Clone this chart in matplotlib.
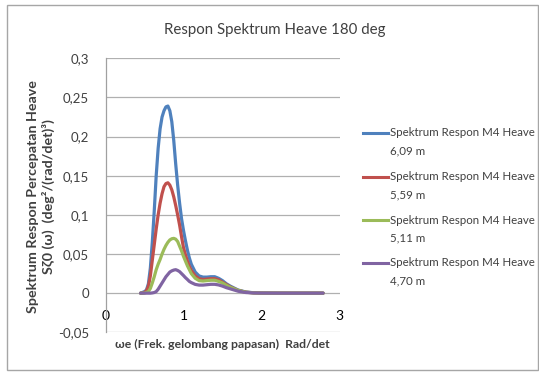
import matplotlib
matplotlib.use("Agg")
import matplotlib.pyplot as plt
from matplotlib.lines import Line2D
from matplotlib.patches import Rectangle

# ---- data ----
omega = [0.45, 0.475, 0.5, 0.525, 0.55, 0.575, 0.6, 0.625, 0.65, 0.675, 0.7, 0.725, 0.75, 0.775,
         0.8, 0.825, 0.85, 0.875, 0.9, 0.925, 0.95, 0.975, 1.0, 1.025, 1.05, 1.075, 1.1, 1.15,
         1.2, 1.25, 1.3, 1.35, 1.4, 1.45, 1.5, 1.55, 1.6, 1.7, 1.8, 1.9, 2.0, 2.2, 2.4, 2.6, 2.79]

s_609 = [0.0, 0.001, 0.002, 0.004, 0.012, 0.032, 0.065, 0.105, 0.15, 0.185, 0.21, 0.225, 0.233, 0.238,
         0.239, 0.233, 0.219, 0.195, 0.165, 0.138, 0.115, 0.095, 0.08, 0.067, 0.055, 0.045, 0.037, 0.027,
         0.022, 0.0205, 0.0205, 0.021, 0.021, 0.019, 0.016, 0.012, 0.009, 0.004, 0.0015, 0.0005, 0.0002,
         0.0001, 0.0, 0.0, 0.0]
s_559 = [0.0, 0.0, 0.001, 0.003, 0.009, 0.022, 0.042, 0.062, 0.082, 0.1, 0.115, 0.127, 0.136, 0.14,
         0.141, 0.138, 0.132, 0.123, 0.112, 0.1, 0.087, 0.072, 0.058, 0.049, 0.041, 0.034, 0.029, 0.022,
         0.0185, 0.0175, 0.018, 0.0185, 0.0185, 0.017, 0.014, 0.011, 0.008, 0.0035, 0.0012, 0.0004, 0.0001,
         0.0, 0.0, 0.0, 0.0]
s_511 = [0.0, 0.0, 0.0, 0.001, 0.002, 0.006, 0.013, 0.021, 0.03, 0.037, 0.043, 0.05, 0.056, 0.061,
         0.065, 0.068, 0.0695, 0.07, 0.069, 0.066, 0.06, 0.054, 0.047, 0.041, 0.035, 0.03, 0.025, 0.019,
         0.016, 0.0155, 0.016, 0.0165, 0.0165, 0.015, 0.013, 0.01, 0.0075, 0.0035, 0.0012, 0.0004, 0.0001,
         0.0, 0.0, 0.0, 0.0]
s_470 = [0.0, 0.0, 0.0, 0.0, 0.0, 0.0, 0.0003, 0.0008, 0.002, 0.005, 0.009, 0.013, 0.017, 0.021,
         0.024, 0.027, 0.0285, 0.0295, 0.03, 0.029, 0.0275, 0.025, 0.0225, 0.0198, 0.0175, 0.015, 0.0135, 0.0112,
         0.0103, 0.0103, 0.0108, 0.0113, 0.0113, 0.0105, 0.009, 0.007, 0.0055, 0.0025, 0.0008, 0.0003, 0.0001,
         0.0, 0.0, 0.0, 0.0]

series_names = ["Spektrum Respon M4 Heave", "Spektrum Respon M4 Heave",
                "Spektrum Respon M4 Heave", "Spektrum Respon M4 Heave"]
series_heights = ["6,09 m", "5,59 m", "5,11 m", "4,70 m"]
series_values = [s_609, s_559, s_511, s_470]
colors = ["#4F81BD", "#C0504D", "#9BBB59", "#8064A2"]

x_ticks = [0, 1, 2, 3]
x_tick_labels = ["0", "1", "2", "3"]
y_ticks = [-0.05, 0.0, 0.05, 0.1, 0.15, 0.2, 0.25, 0.3]
y_tick_labels = ["-0,05", "0", "0,05", "0,1", "0,15", "0,2", "0,25", "0,3"]

title = "Respon Spektrum Heave 180 deg"
x_label = "\u03c9e (Frek. gelombang papasan)  Rad/det"
y_label = "Spektrum Respon Percepatan Heave\nS\u03b60 (\u03c9)  (deg\u00b2/(rad/det)\u00b3)"

# ---- figure ----
W, H = 539, 372
plt.rcParams['font.family'] = ['Lato', 'DejaVu Sans']
fig = plt.figure(figsize=(W / 100, H / 100), dpi=100)
fig.patch.set_facecolor("white")

# outer frame
fig.patches.append(Rectangle((7 / W, 1 - 370 / H), 531 / W, 365 / H, transform=fig.transFigure,
                             fill=False, edgecolor="#A6A6A6", linewidth=1.0))

ax = fig.add_axes([105.5 / W, 1 - 332.3 / H, 234 / W, 274 / H])
ax.set_xlim(0, 3)
ax.set_ylim(-0.05, 0.3)

for vals, c in zip(series_values, colors):
    ax.plot(omega, vals, color=c, linewidth=2.3, solid_joinstyle="round", solid_capstyle="round", zorder=3)

ax.set_yticks(y_ticks)
ax.set_yticklabels(y_tick_labels, fontsize=9.5, color="#404040")
ax.set_xticks(x_ticks)
ax.set_xticklabels(x_tick_labels, fontsize=9.5, color="#404040")
ax.yaxis.grid(True, color="#B0B0B0", linewidth=0.9)
ax.set_axisbelow(True)
for s in ["top", "right"]:
    ax.spines[s].set_visible(False)
ax.spines["left"].set_color("#A0A0A0")
ax.spines["left"].set_linewidth(0.9)
ax.spines["bottom"].set_position(("data", 0))
ax.spines["bottom"].set_visible(False)
ax.tick_params(axis="y", length=0, pad=12)
ax.tick_params(axis="x", length=0, pad=12)

fig.text(275 / W, 1 - 30 / H, title, ha="center", va="center", fontsize=10.8, color="#404040")
fig.text(222 / W, 1 - 344 / H, x_label, ha="center", va="center", fontsize=8.8,
         fontweight="bold", color="#404040")
fig.text(41 / W, 1 - 197 / H, y_label, ha="center", va="center", rotation=90, fontsize=10.3,
         fontweight="bold", color="#404040", linespacing=1.2)

# legend
leg_y = [133, 177, 220, 263]
for y, c, name, h in zip(leg_y, colors, series_names, series_heights):
    fig.lines.append(Line2D([362.5 / W, 388 / W], [1 - y / H, 1 - y / H], transform=fig.transFigure,
                            color=c, linewidth=2.2))
    fig.text(390 / W, 1 - y / H, name, ha="left", va="center", fontsize=8.3, color="#404040")
    fig.text(390 / W, 1 - (y + 18) / H, h, ha="left", va="center", fontsize=8.3, color="#404040")

fig.savefig("out.png", dpi=100)
